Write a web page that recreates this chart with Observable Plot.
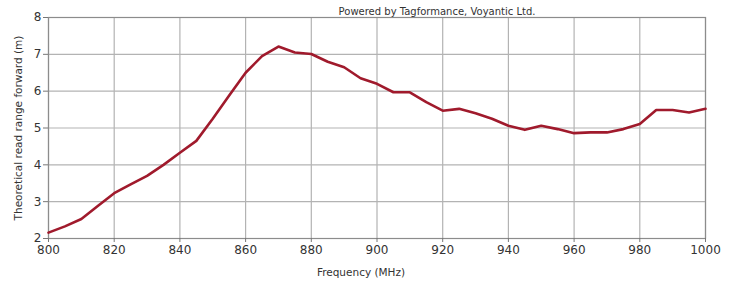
<!DOCTYPE html>
<html>
<head>
<meta charset="utf-8">
<script src="https://cdn.jsdelivr.net/npm/d3@7"></script>
<script src="https://cdn.jsdelivr.net/npm/@observablehq/plot@0.6"></script>
<style>
  html, body { margin: 0; padding: 0; background: #fff; }
  #chart { width: 734px; height: 282px; }
</style>
</head>
<body>
<div id="chart"></div>
<script>
const frequency = [800,805,810,815,820,825,830,835,840,845,850,855,860,865,870,875,880,885,890,895,900,905,910,915,920,925,930,935,940,945,950,955,960,965,970,975,980,985,990,995,1000];
const readRange = [2.16,2.33,2.53,2.88,3.23,3.47,3.70,4.00,4.33,4.65,5.25,5.88,6.50,6.95,7.21,7.05,7.01,6.80,6.65,6.35,6.20,5.97,5.97,5.70,5.47,5.52,5.40,5.25,5.06,4.95,5.06,4.97,4.86,4.88,4.88,4.97,5.11,5.49,5.49,5.42,5.52];
const xTicks = [800,820,840,860,880,900,920,940,960,980,1000];
const yTicks = [2,3,4,5,6,7,8];
const xLabel = "Frequency (MHz)";
const yLabel = "Theoretical read range forward (m)";
const credit = "Powered by Tagformance, Voyantic Ltd.";

const data = frequency.map((f, i) => ({f, r: readRange[i]}));

const chart = Plot.plot({
  width: 734,
  height: 282,
  marginLeft: 48,
  marginRight: 29,
  marginTop: 17,
  marginBottom: 44,
  style: {fontFamily: "DejaVu Sans, sans-serif", background: "#fff", color: "#333"},
  x: {domain: [800, 1000]},
  y: {domain: [2, 8]},
  marks: [
    Plot.gridX(xTicks, {stroke: "#b3b3b3", strokeOpacity: 1, strokeWidth: 1.2}),
    Plot.gridY(yTicks, {stroke: "#b3b3b3", strokeOpacity: 1, strokeWidth: 1.2}),
    Plot.frame({stroke: "#8c8c8c", strokeWidth: 1.2}),
    Plot.axisX({ticks: xTicks, tickFormat: d3.format("d"), tickSize: 4, tickPadding: 3, fontSize: 12, label: null, stroke: "#777", fill: "#333"}),
    Plot.axisY({ticks: yTicks, tickFormat: d3.format("d"), tickSize: 5, tickPadding: 2, fontSize: 12, label: null, stroke: "#777", fill: "#333"}),
    Plot.line(data, {x: "f", y: "r", stroke: "#a01a2c", strokeWidth: 2.6, strokeLinejoin: "round"}),
    Plot.text([credit], {frameAnchor: "top", dx: 60, dy: -3, lineAnchor: "bottom", fontSize: 10, fill: "#333"}),
    Plot.text([xLabel], {frameAnchor: "bottom", dx: -16, dy: 34, lineAnchor: "middle", fontSize: 10.5, fill: "#333"}),
    Plot.text([yLabel], {frameAnchor: "left", dx: -30, rotate: -90, textAnchor: "middle", lineAnchor: "middle", fontSize: 10.5, fill: "#333"})
  ]
});
document.getElementById("chart").append(chart);
</script>
</body>
</html>
